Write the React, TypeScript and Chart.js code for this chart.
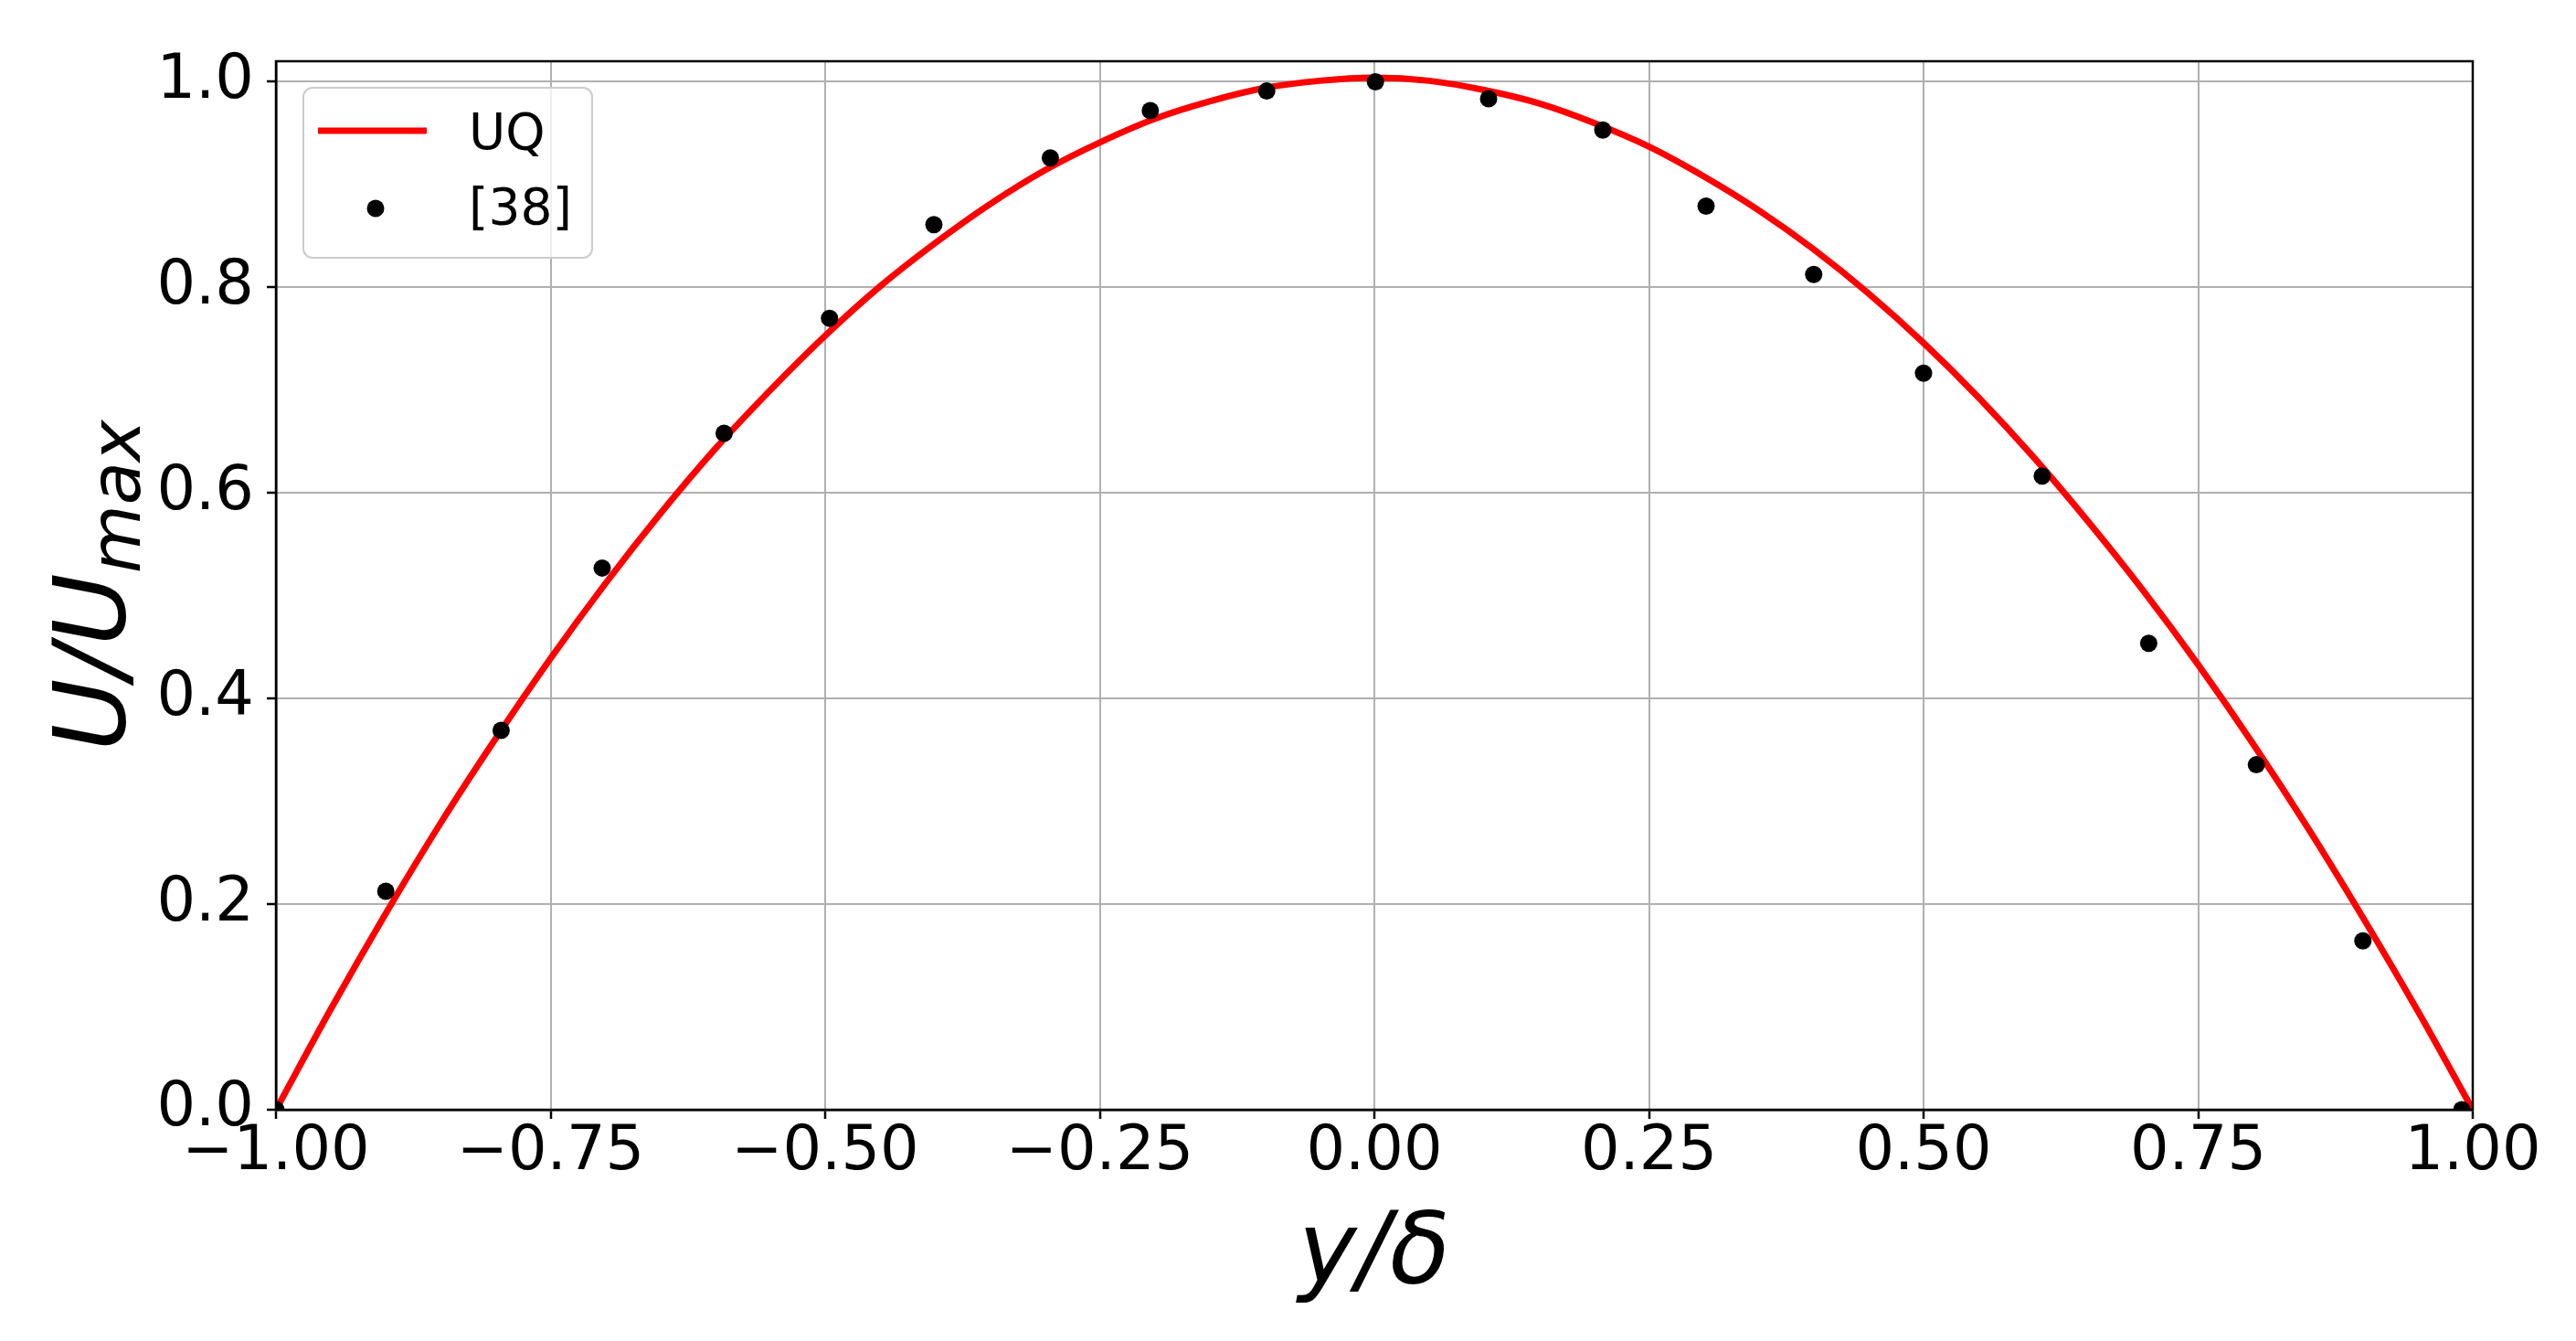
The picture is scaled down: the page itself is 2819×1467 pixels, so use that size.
import React, { useEffect, useRef } from "react";
import { Chart, registerables } from "chart.js";

Chart.register(...registerables);

// ---- data ----
const uqX = [
  -1.0, -0.95, -0.9, -0.85, -0.8, -0.75, -0.7, -0.65, -0.6, -0.55, -0.5, -0.45, -0.4, -0.35, -0.3, -0.25, -0.2,
  -0.15, -0.1, -0.05, 0.0, 0.05, 0.1, 0.15, 0.2, 0.25, 0.3, 0.35, 0.4, 0.45, 0.5, 0.55, 0.6, 0.65, 0.7, 0.75, 0.8,
  0.85, 0.9, 0.95, 1.0,
];
const uqY = [
  0.0, 0.098, 0.191, 0.279, 0.361, 0.439, 0.512, 0.58, 0.643, 0.7, 0.753, 0.801, 0.843, 0.881, 0.914, 0.941, 0.964,
  0.981, 0.994, 1.001, 1.004, 1.001, 0.992, 0.979, 0.96, 0.937, 0.908, 0.875, 0.837, 0.794, 0.746, 0.693, 0.635,
  0.572, 0.505, 0.433, 0.356, 0.274, 0.187, 0.096, 0.0,
];
const refX = [
  -1.0, -0.9, -0.795, -0.703, -0.592, -0.496, -0.401, -0.295, -0.204, -0.098, 0.001, 0.104, 0.208, 0.302, 0.4, 0.5,
  0.608, 0.705, 0.803, 0.9, 0.99,
];
const refY = [
  0.0, 0.2125, 0.369, 0.527, 0.658, 0.77, 0.861, 0.926, 0.972, 0.991, 1.0, 0.9835, 0.953, 0.879, 0.8125, 0.7166,
  0.6164, 0.4538, 0.3356, 0.1643, 0.0,
];
const xTicks = [-1.0, -0.75, -0.5, -0.25, 0.0, 0.25, 0.5, 0.75, 1.0];
const yTicks = [0.0, 0.2, 0.4, 0.6, 0.8, 1.0];
const seriesLabels = ["UQ", "[38]"];
const xTitle = "y/δ";
const yTitleMain = "U/U";
const yTitleSub = "max";

const FONT = "'DejaVu Sans', 'Liberation Sans', sans-serif";

const decorPlugin = {
  id: "decor",
  afterDatasetsDraw(chart: any) {
    const { ctx, chartArea } = chart;
    const { left, top, right, bottom } = chartArea;
    ctx.save();
    ctx.strokeStyle = "#000";
    ctx.lineWidth = 2.5;
    ctx.strokeRect(left, top, right - left, bottom - top);
    ctx.restore();
  },
  afterDraw(chart: any) {
    const { ctx, chartArea } = chart;
    const { left, top, right, bottom } = chartArea;
    const cx = (left + right) / 2;
    const cy = (top + bottom) / 2;
    ctx.save();
    ctx.fillStyle = "#000";
    // x title
    ctx.font = `italic 108px ${FONT}`;
    ctx.textAlign = "center";
    ctx.textBaseline = "alphabetic";
    ctx.fillText(xTitle, cx, bottom + 189);
    // y title (rotated, with subscript)
    ctx.save();
    ctx.translate(left - 166, cy);
    ctx.rotate(-Math.PI / 2);
    ctx.textAlign = "left";
    ctx.font = `italic 108px ${FONT}`;
    const w1 = ctx.measureText(yTitleMain).width;
    ctx.font = `italic 77px ${FONT}`;
    const w2 = ctx.measureText(yTitleSub).width;
    const start = -(w1 + w2) / 2;
    ctx.font = `italic 108px ${FONT}`;
    ctx.fillText(yTitleMain, start, 0);
    ctx.font = `italic 77px ${FONT}`;
    ctx.fillText(yTitleSub, start + w1, 17);
    ctx.restore();

    // legend
    const lx = left + 30;
    const ly = top + 29;
    const lw = 316;
    const lh = 186;
    ctx.beginPath();
    const r = 10;
    ctx.moveTo(lx + r, ly);
    ctx.arcTo(lx + lw, ly, lx + lw, ly + lh, r);
    ctx.arcTo(lx + lw, ly + lh, lx, ly + lh, r);
    ctx.arcTo(lx, ly + lh, lx, ly, r);
    ctx.arcTo(lx, ly, lx + lw, ly, r);
    ctx.closePath();
    ctx.fillStyle = "rgba(255,255,255,0.8)";
    ctx.fill();
    ctx.strokeStyle = "#cccccc";
    ctx.lineWidth = 2;
    ctx.stroke();

    const ds = chart.data.datasets;
    // line sample
    ctx.strokeStyle = ds[0].borderColor;
    ctx.lineWidth = ds[0].borderWidth;
    ctx.lineCap = "butt";
    ctx.beginPath();
    ctx.moveTo(lx + 16, ly + 47);
    ctx.lineTo(lx + 135, ly + 47);
    ctx.stroke();
    // dot sample
    ctx.fillStyle = ds[1].backgroundColor;
    ctx.beginPath();
    ctx.arc(lx + 79, ly + 132, ds[1].pointRadius, 0, Math.PI * 2);
    ctx.fill();
    // labels
    ctx.fillStyle = "#000";
    ctx.font = `55px ${FONT}`;
    ctx.textAlign = "left";
    ctx.textBaseline = "alphabetic";
    ctx.fillText(ds[0].label, lx + 181, ly + 67);
    ctx.fillText(ds[1].label, lx + 181, ly + 149);
    ctx.restore();
  },
};

export default function App() {
  const ref = useRef<HTMLCanvasElement | null>(null);
  useEffect(() => {
    if (!ref.current) return;
    const chart = new Chart(ref.current, {
      type: "scatter",
      data: {
        datasets: [
          {
            type: "line",
            label: seriesLabels[0],
            data: uqX.map((x, i) => ({ x, y: uqY[i] })),
            borderColor: "#ff0000",
            backgroundColor: "#ff0000",
            borderWidth: 7,
            pointRadius: 0,
            cubicInterpolationMode: "monotone",
            fill: false,
            clip: 0,
            order: 2,
          } as any,
          {
            type: "scatter",
            label: seriesLabels[1],
            data: refX.map((x, i) => ({ x, y: refY[i] })),
            backgroundColor: "#000000",
            borderColor: "#000000",
            borderWidth: 0,
            pointRadius: 9.5,
            pointHoverRadius: 9.5,
            clip: 0,
            order: 1,
          } as any,
        ],
      },
      options: {
        animation: false,
        responsive: false,
        devicePixelRatio: 1,
        layout: { padding: { top: 67, right: 113, left: 0, bottom: 0 } },
        plugins: { legend: { display: false }, tooltip: { enabled: false }, title: { display: false } },
        events: [],
        scales: {
          x: {
            type: "linear",
            min: -1,
            max: 1,
            afterBuildTicks: (s: any) => {
              s.ticks = xTicks.map((v) => ({ value: v }));
            },
            afterFit: (s: any) => {
              s.height = 253;
            },
            ticks: {
              autoSkip: false,
              maxRotation: 0,
              minRotation: 0,
              padding: 4,
              color: "#000",
              font: { family: FONT, size: 67, lineHeight: 1 },
              callback: (v: any) => Number(v).toFixed(2).replace("-", "\u2212"),
            },
            grid: { color: "#b0b0b0", lineWidth: 2, tickColor: "#000", tickLength: 10, tickWidth: 2.5 },
            border: { display: true, color: "#000", width: 2.5 },
          },
          y: {
            type: "linear",
            min: 0,
            max: 1.02,
            afterBuildTicks: (s: any) => {
              s.ticks = yTicks.map((v) => ({ value: v }));
            },
            afterFit: (s: any) => {
              s.width = 302;
            },
            ticks: {
              autoSkip: false,
              padding: 14,
              color: "#000",
              font: { family: FONT, size: 67, lineHeight: 1 },
              callback: (v: any) => Number(v).toFixed(1),
            },
            grid: { color: "#b0b0b0", lineWidth: 2, tickColor: "#000", tickLength: 10, tickWidth: 2.5 },
            border: { display: true, color: "#000", width: 2.5 },
          },
        },
      } as any,
      plugins: [decorPlugin],
    });
    return () => chart.destroy();
  }, []);
  return (
    <div style={{ position: "fixed", left: 0, top: 0, width: 2819, height: 1467, background: "#fff" }}>
      <canvas ref={ref} width={2819} height={1467} style={{ display: "block", width: 2819, height: 1467 }} />
    </div>
  );
}
